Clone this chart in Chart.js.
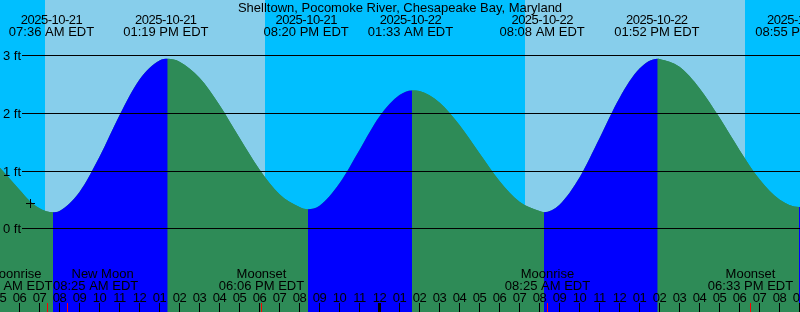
<!DOCTYPE html>
<html>
<head>
<meta charset="utf-8">
<title>Shelltown tide</title>
<script src="https://cdn.jsdelivr.net/npm/chart.js@4.4.1/dist/chart.umd.min.js"></script>
<style>
  html, body { margin: 0; padding: 0; background: #fff; }
  canvas { display: block; }
</style>
</head>
<body>
<canvas id="tide" width="800" height="312"></canvas>
<script>
// all times are hours counted from 2025-10-21 00:00 EDT
var title = 'Shelltown, Pocomoke River, Chesapeake Bay, Maryland';

// water level in feet
var tideTimes   = [5.0, 6, 6.5, 7, 7.675, 8, 9, 10, 11, 12, 13, 13.41, 14, 15, 16, 17, 18, 19, 20, 20.425,
                   21, 22, 23, 24, 25, 25.625, 26, 27, 28, 29, 30, 31, 32, 32.225, 33, 34, 35, 36, 37, 37.91,
                   38, 39, 40, 41, 42, 43, 44, 44.975, 45.2];
var tideHeights = [1.07, 0.68, 0.49, 0.36, 0.29, 0.31, 0.64, 1.25, 1.97, 2.59, 2.92, 2.95, 2.90, 2.62, 2.15, 1.58, 1.03, 0.60, 0.38, 0.34,
                   0.40, 0.79, 1.37, 1.95, 2.32, 2.40, 2.39, 2.19, 1.80, 1.31, 0.83, 0.47, 0.31, 0.29, 0.42, 0.89, 1.57, 2.27, 2.78, 2.95,
                   2.945, 2.81, 2.44, 1.93, 1.37, 0.86, 0.51, 0.38, 0.385];

// high / low tides
var extremeTimes = [7.6, 13.317, 20.333, 25.55, 32.133, 37.867, 44.917];
var extremeDates = ['2025-10-21', '2025-10-21', '2025-10-21', '2025-10-22', '2025-10-22', '2025-10-22', '2025-10-22'];
var extremeClock = ['07:36 AM EDT', '01:19 PM EDT', '08:20 PM EDT', '01:33 AM EDT', '08:08 AM EDT', '01:52 PM EDT', '08:55 PM EDT'];

// daylight
var sunriseTimes = [7.275, 31.275];
var sunsetTimes  = [18.275, 42.275];

// moon events
var moonTimes = [7.417, 8.417, 18.1, 32.417, 42.55];
var moonNames = ['Moonrise', 'New Moon', 'Moonset', 'Moonrise', 'Moonset'];
var moonClock = ['07:25 AM EDT', '08:25 AM EDT', '06:06 PM EDT', '08:25 AM EDT', '06:33 PM EDT'];

// hour ticks along the bottom
var tickHours  = [5, 6, 7, 8, 9, 10, 11, 12, 13, 14, 15, 16, 17, 18, 19, 20, 21, 22, 23, 24,
                  25, 26, 27, 28, 29, 30, 31, 32, 33, 34, 35, 36, 37, 38, 39, 40, 41, 42, 43, 44, 45];
var tickLabels = ['05', '06', '07', '08', '09', '10', '11', '12', '01', '02', '03', '04', '05', '06', '07', '08', '09', '10', '11', '12',
                  '01', '02', '03', '04', '05', '06', '07', '08', '09', '10', '11', '12', '01', '02', '03', '04', '05', '06', '07', '08', '09'];
var midnightHours = [24];

// depth lines
var levelValues = [0, 1, 2, 3];
var levelLabels = ['0 ft', '1 ft', '2 ft', '3 ft'];

// "now" mark
var nowTime = 6.55;
var nowLevel = 0.44;

// styling
var nightColor = '#00BFFF';
var dayColor = '#87CEEB';
var risingColor = '#0000FF';
var fallingColor = '#2E8B57';
var FONT = '13px "Liberation Sans", Arial, sans-serif';
// moon label placement (labels pushed apart where they collide)
var moonLayout = [
  { align: 'right', nameDx: -6, timeDx: 5 },
  { align: 'left', nameDx: 4, timeDx: -14.5 },
  { align: 'center', nameDx: 0, timeDx: 0 },
  { align: 'center', nameDx: 0, timeDx: 0 },
  { align: 'center', nameDx: 0, timeDx: 0 }
];

var tidePoints = tideTimes.map(function (t, i) { return { x: t, y: tideHeights[i] }; });

// digits in the original font run a bit narrower than Liberation's
function digitText(ctx, s, x, y) {
  ctx.letterSpacing = '-0.5px';
  ctx.fillText(s, x, y);
  ctx.letterSpacing = '0px';
}

var decor = {
  id: 'decor',
  beforeDatasetsDraw: function (chart) {
    var ctx = chart.ctx, xs = chart.scales.x, a = chart.chartArea;
    ctx.save();
    ctx.fillStyle = nightColor;
    ctx.fillRect(a.left, a.top, a.right - a.left, a.bottom - a.top);
    ctx.fillStyle = dayColor;
    for (var i = 0; i < sunriseTimes.length; i++) {
      var x0 = Math.round(xs.getPixelForValue(sunriseTimes[i]));
      var x1 = Math.round(xs.getPixelForValue(sunsetTimes[i]));
      ctx.fillRect(x0, a.top, x1 - x0, a.bottom - a.top);
    }
    ctx.restore();
  },
  afterDatasetsDraw: function (chart) {
    var ctx = chart.ctx, xs = chart.scales.x, ys = chart.scales.y, a = chart.chartArea;
    ctx.save();
    ctx.font = FONT;
    ctx.fillStyle = '#000';
    ctx.strokeStyle = '#000';
    ctx.lineWidth = 1;

    // depth lines + labels
    ctx.textAlign = 'left';
    ctx.textBaseline = 'alphabetic';
    levelValues.forEach(function (v, i) {
      var py = Math.floor(ys.getPixelForValue(v)) + 0.5;
      ctx.beginPath();
      ctx.moveTo(22, py);
      ctx.lineTo(a.right, py);
      ctx.stroke();
      ctx.fillText(levelLabels[i], 3, Math.round(py + 4.5));
    });

    // hour ticks
    ctx.textAlign = 'center';
    tickHours.forEach(function (h, i) {
      var px = Math.floor(xs.getPixelForValue(h)) + 0.5;
      if (midnightHours.indexOf(h) >= 0) {
        ctx.fillRect(px - 1.5, 303, 3, 9);
      } else {
        ctx.beginPath();
        ctx.moveTo(px, 303);
        ctx.lineTo(px, 312);
        ctx.stroke();
      }
      digitText(ctx, tickLabels[i], px, 302);
    });

    // moon events
    moonTimes.forEach(function (t, i) {
      var px = Math.floor(xs.getPixelForValue(t)) + 0.5;
      var lay = moonLayout[i];
      ctx.fillStyle = '#000';
      ctx.textAlign = lay.align;
      ctx.fillText(moonNames[i], px + lay.nameDx, 278);
      ctx.fillText(moonClock[i], px + lay.timeDx, 290);
      ctx.strokeStyle = '#FF0000';
      ctx.beginPath();
      ctx.moveTo(px, 303);
      ctx.lineTo(px, 312);
      ctx.stroke();
    });

    // tide times along the top
    ctx.fillStyle = '#000';
    ctx.textAlign = 'center';
    extremeTimes.forEach(function (t, i) {
      var px = xs.getPixelForValue(t);
      digitText(ctx, extremeDates[i], px, 24);
      ctx.fillText(extremeClock[i], px, 36);
    });

    ctx.fillText(title, (a.left + a.right) / 2, 12);
    ctx.restore();
  }
};

new Chart(document.getElementById('tide').getContext('2d'), {
  type: 'line',
  data: {
    datasets: [
      {
        // now mark
        data: [{ x: nowTime, y: nowLevel }],
        showLine: false,
        fill: false,
        pointStyle: 'cross',
        pointRadius: 4.5,
        borderColor: '#000',
        borderWidth: 1
      },
      {
        // water, blue while rising, green while falling
        data: tidePoints,
        borderWidth: 0,
        borderColor: 'rgba(0,0,0,0)',
        backgroundColor: fallingColor,
        fill: 'start',
        cubicInterpolationMode: 'monotone',
        pointRadius: 0,
        segment: {
          backgroundColor: function (c) {
            return c.p1.parsed.y > c.p0.parsed.y ? risingColor : fallingColor;
          }
        }
      },
      {
        // plain layer under it so the segment joins have no seams
        data: tidePoints,
        borderWidth: 0,
        borderColor: 'rgba(0,0,0,0)',
        backgroundColor: fallingColor,
        fill: 'start',
        cubicInterpolationMode: 'monotone',
        pointRadius: 0
      }
    ]
  },
  options: {
    responsive: false,
    animation: false,
    layout: { padding: 0, autoPadding: false },
    plugins: { legend: { display: false }, tooltip: { enabled: false } },
    scales: {
      x: { type: 'linear', display: false, min: 5.025, max: 45.025 },
      y: { display: false, min: -1.441, max: 3.969 }
    }
  },
  plugins: [decor]
});
</script>
</body>
</html>
